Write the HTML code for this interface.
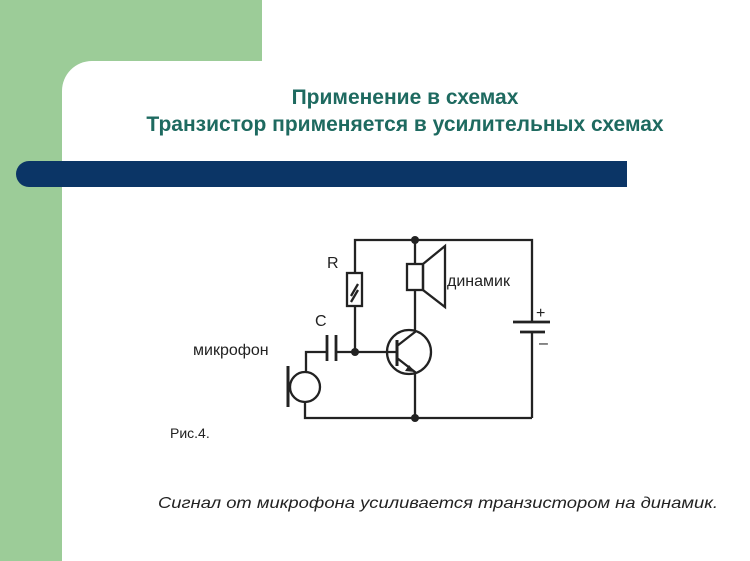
<!DOCTYPE html><html><head><meta charset="utf-8"><style>
body{margin:0;width:750px;height:561px;position:relative;background:#fff;overflow:hidden;font-family:"Liberation Sans",sans-serif}
.t{position:absolute;left:62px;width:686px;text-align:center;color:#1e6a60;font-weight:bold;font-size:21px}
</style></head><body>
<div style="position:absolute;left:0;top:0;width:262px;height:61px;background:#9ccc98"></div>
<div style="position:absolute;left:0;top:0;width:62px;height:561px;background:#9ccc98"></div>
<div style="position:absolute;left:62px;top:61px;width:40px;height:40px;background:#9ccc98"></div>
<div style="position:absolute;left:62px;top:61px;width:60px;height:60px;background:#fff;border-top-left-radius:30px"></div>
<div style="position:absolute;left:16px;top:161px;width:611px;height:26px;background:#0b3566;border-radius:13px 0 0 13px"></div>
<div class="t" style="top:86px">Применение в схемах</div>
<div class="t" style="top:113px">Транзистор применяется в усилительных схемах</div>
<svg width="750" height="561" style="position:absolute;left:0;top:0" font-family="Liberation Sans,sans-serif">
<g stroke="#222" stroke-width="2.3" fill="none">
<polyline points="355,273 355,240 532,240 532,322"/>
<line x1="532" y1="332" x2="532" y2="418"/>
<line x1="513" y1="322" x2="550" y2="322" stroke-width="2.8"/>
<line x1="520" y1="332" x2="545" y2="332" stroke-width="2.8"/>
<rect x="347" y="273" width="15" height="33"/>
<line x1="351" y1="296" x2="358" y2="284"/><line x1="351" y1="302" x2="358" y2="290"/>
<line x1="355" y1="306" x2="355" y2="352"/>
<line x1="327" y1="335" x2="327" y2="361" stroke-width="2.8"/>
<line x1="336" y1="335" x2="336" y2="361" stroke-width="2.8"/>
<line x1="336" y1="352" x2="397" y2="352"/>
<polyline points="327,352 306,352 306,372"/>
<circle cx="305" cy="387" r="15"/>
<line x1="288" y1="366" x2="288" y2="407" stroke-width="3"/>
<polyline points="305,402 305,418 532,418"/>
<circle cx="409" cy="352" r="22"/>
<line x1="397" y1="340" x2="397" y2="366" stroke-width="3"/>
<polyline points="397,346 415,332 415,290"/>
<polyline points="397,358 415,372 415,418"/>
<rect x="407" y="264" width="16" height="26"/>
<polyline points="415,240 415,264"/>
<polygon points="423,264 445,246 445,307 423,290"/>
</g>
<polygon points="415,372 405,371 409,365" fill="#222"/>
<circle cx="415" cy="240" r="4" fill="#222"/><circle cx="355" cy="352" r="4" fill="#222"/><circle cx="415" cy="418" r="4" fill="#222"/>
<g fill="#222" font-size="16">
<text x="327" y="268">R</text><text x="315" y="326">C</text>
<text x="447" y="286">динамик</text><text x="193" y="355">микрофон</text>
<text x="536" y="318" font-size="16">+</text><text x="539" y="348" font-size="16">–</text>
<text x="170" y="438" font-size="14">Рис.4.</text>
</g>
<text x="158" y="508" font-size="16" font-style="italic" fill="#222" textLength="560" lengthAdjust="spacingAndGlyphs">Сигнал от микрофона усиливается транзистором на динамик.</text>
</svg>
</body></html>
